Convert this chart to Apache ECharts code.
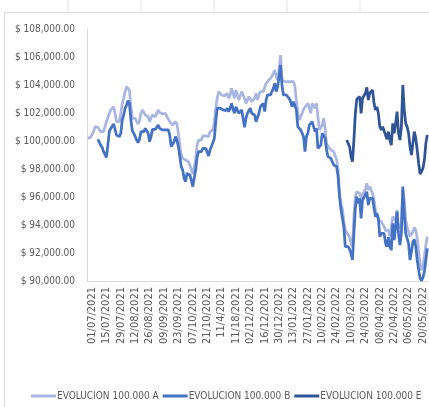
<!DOCTYPE html>
<html>
<head>
<meta charset="utf-8">
<script src="https://cdn.jsdelivr.net/npm/echarts@6/dist/echarts.min.js"></script>
<style>
  html, body { margin: 0; padding: 0; background: #fff; }
  #chart-panel { width: 429px; height: 407px; }
</style>
</head>
<body>
<div id="chart-panel"></div>
<script>
// tick labels shown under the x axis (every 10th trading day, as in the sheet)
const tickLabels = [
  "01/07/2021", "15/07/2021", "29/07/2021", "12/08/2021", "26/08/2021", "09/09/2021",
  "23/09/2021", "07/10/2021", "21/10/2021", "11/4/2021", "11/18/2021", "02/12/2021",
  "16/12/2021", "30/12/2021", "13/01/2022", "27/01/2022", "10/02/2022", "24/02/2022",
  "10/03/2022", "24/03/2022", "08/04/2022", "22/04/2022", "06/05/2022", "20/05/2022"
]
const firstLabelIndex = 3
const labelStep = 10

// trading days 28/06/2021 .. 25/05/2022 (one day missing in the sheet)
const firstDay = "2021-06-28"
const lastDay = "2022-05-25"
const missingDays = ["2022-03-28"]

const seriesNames = ["EVOLUCION 100.000 A", "EVOLUCION 100.000 B", "EVOLUCION 100.000 E"]

const valuesA = [
  100190,100190,100260,100350,100670,101020,101020,100980,100900,100670,
  100550,100670,100550,101380,101500,101980,102220,102340,102450,101980,
  101380,101380,101380,101980,102690,103050,103530,103880,104000,103640,
  102450,101620,101500,101620,101380,101220,101450,101980,102220,102100,
  101860,101980,101740,101380,101620,101860,101790,101740,101980,102220,
  102030,102100,101930,101860,101980,101740,101620,101380,101380,101140,
  101140,101380,101220,100550,99710,99000,98760,98690,98640,98760,
  98520,98290,97930,97640,97690,98640,99710,100070,100190,100070,
  100360,100310,100360,100430,100310,100670,100670,100790,101380,102340,
  103050,103530,103410,103290,103410,103220,103290,103410,103050,103290,
  103760,103410,103050,103640,103290,102930,102930,103530,103640,103050,
  102690,102930,103170,103170,102810,102930,103050,
  103410,102930,103290,103530,103640,103530,103600,104120,104240,104360,
  104410,104600,104720,105070,104600,104360,105070,106140,104360,104240,
  104240,104310,104240,104120,104240,104360,104240,103880,102930,101980,
  101500,101380,101980,102260,102410,102340,102690,102340,101980,102690,
  102570,102340,102690,101740,100790,100670,101140,101620,100910,99840,
  99600,99600,99360,99360,99240,99360,98650,97930,96260,95550,
  95190,94240,93640,93520,93290,93120,92690,92450,94590,96020,
  96380,96260,96260,95900,96140,96380,96550,96980,96500,96740,
  96620,96260,95790,95070,94950,94360,94240,94240,94170,93880,
  93590,93520,93640,93170,93280,94590,94590,94360,95070,93760,
  93640,94120,96500,95790,94360,93830,93520,93170,93050,93520,
  93830,93640,93050,92090,91140,90780,91140,91740,92570,93170
]

// B starts on the 8th trading day
const startB = 7
const valuesB = [
  100120,100020,99710,99550,99240,99120,98830,99710,100670,100900,
  100830,101220,101140,100430,100310,100310,100550,101500,101860,102340,
  102570,102880,102690,101500,100740,100550,100600,100070,99880,100120,
  100670,100790,100670,100900,100790,100550,99950,100310,100830,100790,
  100830,100900,101140,100900,101020,100790,100900,100790,100670,100790,
  100430,99600,99480,99950,100310,100070,99600,98930,98170,97930,
  97340,97100,97690,97570,97570,97210,96740,96690,97930,98830,
  99240,99360,99240,99480,99360,99480,99600,98930,99360,99600,
  99650,100190,101380,102340,102450,102340,102220,102220,102100,102170,
  102340,102100,102340,102690,102270,101980,102450,102220,101980,101930,
  102220,102340,100980,101620,101980,101860,102340,101980,101860,101860,
  101380,101260,101980,102450,102570,102690,102100,102930,103290,103410,
  103290,103530,103760,104120,103530,103880,104600,105430,104000,103290,
  103410,103290,103220,103050,102810,102450,102810,102690,102220,101030,
  100910,100790,100550,100310,99240,100310,100550,101140,101260,101380,
  101020,100670,100910,99480,99360,99710,100550,100670,100190,99360,
  98880,98880,98760,98520,98290,98290,98170,97460,96020,95120,
  95070,93880,92450,92570,92450,92260,91970,91500,93400,95190,
  96020,95550,95900,94480,95790,95670,96140,96380,95430,95900,
  95790,95900,95190,94590,94830,94480,93170,93400,93520,93400,
  92690,92450,93120,92450,92210,94120,92930,93880,94950,93400,
  92570,93400,96740,94830,93400,93050,92690,91500,92090,92810,
  92970,92450,91500,90780,90190,90020,90260,90670,91500,92330
]

// E starts 07/03/2022
const startE = 180
const valuesE = [
  100070,99950,99600,98880,98520,100070,101980,102980,102930,103170,
  101980,103050,103050,103410,103830,102930,103410,103530,103640,102690,
  102220,102450,101980,101020,100790,101020,100980,100430,100120,100670,
  100070,99710,101260,100550,101260,102100,100550,100070,101020,104000,
  102220,101260,101020,100550,99600,99000,99830,100670,100190,99360,
  98410,97640,97810,98050,98640,99830,100430
]

const yTicks = { min: 90000, max: 108000, interval: 2000 }

const pad = (n) => (n < 10 ? "0" + n : "" + n)
const buildDays = () => {
  const out = []
  const d = new Date(firstDay + "T00:00:00Z")
  const end = new Date(lastDay + "T00:00:00Z")
  while (d <= end) {
    const iso = d.toISOString().slice(0, 10)
    const wd = d.getUTCDay()
    if (wd !== 0 && wd !== 6 && missingDays.indexOf(iso) < 0) {
      out.push(pad(d.getUTCDate()) + "/" + pad(d.getUTCMonth() + 1) + "/" + d.getUTCFullYear())
    }
    d.setUTCDate(d.getUTCDate() + 1)
  }
  return out
}
const categories = buildDays()

const padTo = (start, arr) => {
  const res = new Array(start).fill(null).concat(arr)
  while (res.length < categories.length) res.push(null)
  return res
}

const colors = ["#A9B6E2", "#4472C4", "#2F5597"]
const font = "'DejaVu Sans Condensed', Roboto, sans-serif"

const chart = echarts.init(document.getElementById("chart-panel"), null, { renderer: "canvas" })

const sheetLines = [68, 141, 214, 287, 360].map((x) => ({
  type: "line",
  shape: { x1: x, y1: 0, x2: x, y2: 12 },
  style: { stroke: "#e3e3e3", lineWidth: 1 },
  silent: true
}))

const options = {
  animation: false,
  color: colors,
  graphic: [
    {
      type: "rect",
      shape: { x: 4.5, y: 12.5, width: 440, height: 420 },
      style: { fill: "none", stroke: "#d9d9d9", lineWidth: 1 },
      silent: true
    }
  ].concat(sheetLines),
  grid: {
    left: 87,
    right: 1,
    top: 29,
    bottom: 126,
    containLabel: false
  },
  legend: {
    data: seriesNames,
    left: 31,
    top: 391,
    width: 429,
    padding: 0,
    icon: "rect",
    itemWidth: 25,
    itemHeight: 3,
    itemGap: 4,
    textStyle: {
      fontFamily: font,
      fontSize: 10,
      color: "#595959",
      padding: [0, 0, 0, -4]
    }
  },
  xAxis: {
    type: "category",
    data: categories,
    boundaryGap: true,
    axisLine: { lineStyle: { color: "#d9d9d9", width: 1 } },
    axisTick: { show: false },
    splitLine: { show: false },
    axisLabel: {
      rotate: 90,
      margin: 6,
      fontFamily: font,
      fontSize: 11,
      color: "#595959",
      interval: (index) => index >= firstLabelIndex && (index - firstLabelIndex) % labelStep === 0,
      formatter: (value, index) => {
        const k = (index - firstLabelIndex) / labelStep
        return tickLabels[k] || value
      }
    }
  },
  yAxis: {
    type: "value",
    min: yTicks.min,
    max: yTicks.max,
    interval: yTicks.interval,
    axisLine: { show: true, lineStyle: { color: "#d9d9d9", width: 1 } },
    axisTick: { show: false },
    splitLine: { show: false },
    axisLabel: {
      margin: 12,
      fontFamily: font,
      fontSize: 10,
      color: "#595959",
      formatter: (v) => "$ " + v.toLocaleString("en-US", { minimumFractionDigits: 2, maximumFractionDigits: 2 })
    }
  },
  series: [
    {
      name: seriesNames[0],
      type: "line",
      data: padTo(0, valuesA),
      showSymbol: false,
      lineStyle: { width: 2.75, color: colors[0] },
      z: 1
    },
    {
      name: seriesNames[1],
      type: "line",
      data: padTo(startB, valuesB),
      showSymbol: false,
      lineStyle: { width: 2.75, color: colors[1] },
      z: 2
    },
    {
      name: seriesNames[2],
      type: "line",
      data: padTo(startE, valuesE),
      showSymbol: false,
      lineStyle: { width: 2.75, color: colors[2] },
      z: 3
    }
  ]
}
chart.setOption(options)
</script>
</body>
</html>
